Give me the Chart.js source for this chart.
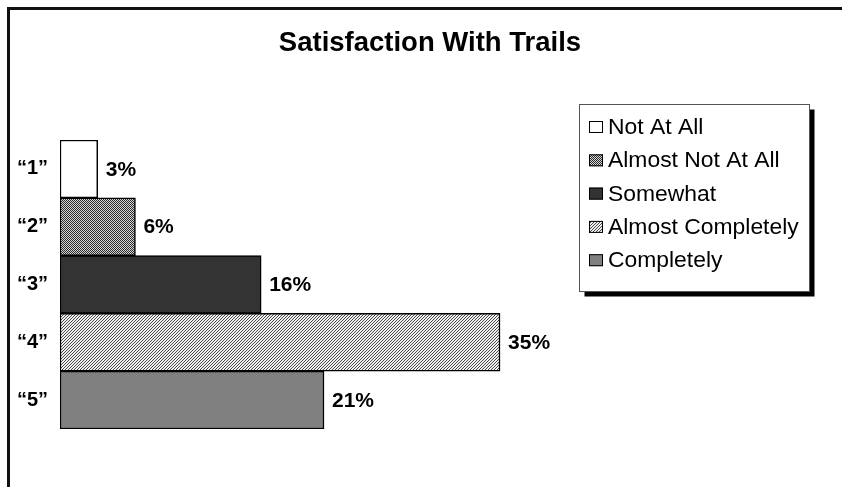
<!DOCTYPE html>
<html>
<head>
<meta charset="utf-8">
<script src="https://cdn.jsdelivr.net/npm/chart.js@4/dist/chart.umd.min.js"></script>
<style>
  html, body { margin: 0; padding: 0; background: #fff; }
  #wrap { width: 842px; height: 487px; }
</style>
</head>
<body>
<div id="wrap"><canvas id="c" width="842" height="487"></canvas></div>
<script>
const TITLE = 'Satisfaction With Trails';
const categories = ['\u201C1\u201D', '\u201C2\u201D', '\u201C3\u201D', '\u201C4\u201D', '\u201C5\u201D'];
const seriesNames = ['Not At All', 'Almost Not At All', 'Somewhat', 'Almost Completely', 'Completely'];
const values = [3, 6, 16, 35, 21];
const valueLabels = ['3%', '6%', '16%', '35%', '21%'];

const canvas = document.getElementById('c');
const ctx = canvas.getContext('2d');

function makePattern(size, bg, fg, pixels) {
  const c = document.createElement('canvas');
  c.width = size; c.height = size;
  const x = c.getContext('2d');
  x.fillStyle = bg; x.fillRect(0, 0, size, size);
  x.fillStyle = fg;
  pixels.forEach(p => x.fillRect(p[0], p[1], 1, 1));
  return ctx.createPattern(c, 'repeat');
}
const dotPat = makePattern(2, '#d8d8d8', '#2a2a2a', [[0, 0], [1, 1]]);
const hatchPat = makePattern(3, '#f0f0f0', '#4a4a4a', [[2, 0], [1, 1], [0, 2]]);
const fills = ['#ffffff', dotPat, '#333333', hatchPat, '#808080'];

const datasets = seriesNames.map((name, i) => ({
  label: name,
  data: categories.map((_, j) => (j === i ? values[i] : null)),
  backgroundColor: fills[i],
  borderColor: '#000000',
  borderWidth: 1.5,
  borderSkipped: false,
  categoryPercentage: 1,
  barPercentage: 1,
  skipNull: true
}));

const framePlugin = {
  id: 'frame',
  beforeDraw(chart) {
    const c = chart.ctx;
    c.save();
    c.fillStyle = '#ffffff';
    c.fillRect(0, 0, chart.width, chart.height);
    c.strokeStyle = '#111111';
    c.lineWidth = 3;
    c.beginPath();
    c.moveTo(8.5, chart.height);
    c.lineTo(8.5, 8.5);
    c.lineTo(chart.width, 8.5);
    c.stroke();
    // title
    c.fillStyle = '#000';
    c.font = 'bold 27.5px "Liberation Sans", Arial, sans-serif';
    c.textAlign = 'center';
    c.textBaseline = 'middle';
    c.fillText(TITLE, 430, 43);
    c.restore();
  }
};

const labelPlugin = {
  id: 'valueLabels',
  afterDatasetsDraw(chart) {
    const c = chart.ctx;
    c.save();
    c.fillStyle = '#000';
    c.font = 'bold 21px "Liberation Sans", Arial, sans-serif';
    c.textAlign = 'left';
    c.textBaseline = 'middle';
    chart.data.datasets.forEach((ds, i) => {
      const el = chart.getDatasetMeta(i).data[i];
      if (!el) return;
      c.fillText(valueLabels[i], el.x + 8, el.y + 1);
    });
    c.restore();
  }
};

const legendPlugin = {
  id: 'boxLegend',
  afterDraw(chart) {
    const c = chart.ctx;
    const bx = 579.5, by = 104.5, bw = 230, bh = 187;
    c.save();
    c.fillStyle = '#000';
    c.fillRect(bx + 5, by + 5, bw, bh);
    c.fillStyle = '#fff';
    c.fillRect(bx, by, bw, bh);
    c.strokeStyle = '#555';
    c.lineWidth = 1;
    c.strokeRect(bx, by, bw, bh);
    c.font = '22px "Liberation Sans", Arial, sans-serif';
    c.textBaseline = 'middle';
    c.textAlign = 'left';
    chart.data.datasets.forEach((ds, i) => {
      const cy = 127 + i * 33.3;
      c.fillStyle = ds.backgroundColor;
      c.fillRect(589, cy - 6, 14, 12);
      c.strokeStyle = '#000';
      c.lineWidth = 1;
      c.strokeRect(589.5, cy - 6 + 0.5, 13, 11);
      c.fillStyle = '#000';
      c.save();
      c.translate(608, cy + 1);
      c.scale(1.04, 1);
      c.fillText(ds.label, 0, 0);
      c.restore();
    });
    c.restore();
  }
};

new Chart(canvas, {
  type: 'bar',
  data: { labels: categories, datasets: datasets },
  options: {
    indexAxis: 'y',
    responsive: false,
    animation: false,
    devicePixelRatio: 1,
    layout: { padding: { top: 140, bottom: 58, left: 8, right: 153.4 } },
    plugins: {
      legend: { display: false },
      title: { display: false },
      tooltip: { enabled: false }
    },
    scales: {
      x: { display: false, min: 0, max: 50 },
      y: {
        grid: { display: false, drawTicks: false },
        border: { display: false },
        ticks: {
          color: '#000',
          padding: 12,
          font: { family: '"Liberation Sans", Arial, sans-serif', size: 20, weight: 'bold' }
        },
        afterFit(scale) { scale.width = 52; }
      }
    }
  },
  plugins: [framePlugin, labelPlugin, legendPlugin]
});
</script>
</body>
</html>
